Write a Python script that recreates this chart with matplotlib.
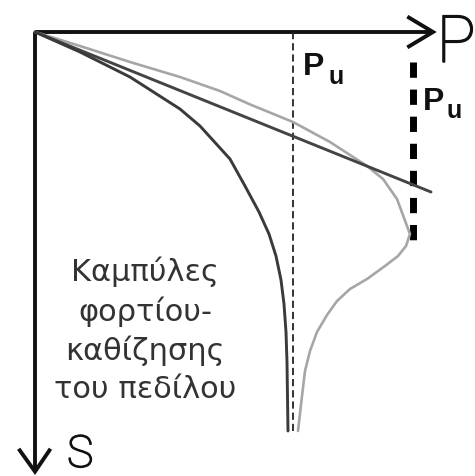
import matplotlib
matplotlib.use("Agg")
import matplotlib.pyplot as plt
import matplotlib.patheffects as pe

# Load (P) and settlement (S) in arbitrary units; S grows downward.
steep_P = [0, 11.25, 23.75, 36.25, 41.25, 48.75, 52.5, 56, 58.5, 60.25, 61.5,
           62.25, 62.75, 63, 63.25]
steep_S = [0, 5, 11.25, 19.25, 23.5, 31.75, 38.5, 45, 50.5, 56, 62,
           68, 75, 82.5, 99.75]

linear_P = [0, 99]
linear_S = [0, 40]

soft_P = [0, 11.25, 23.75, 36.25, 46.25, 53.75, 64.5, 73.75, 83, 87, 90.5, 93,
          93.75, 92.75, 90.75, 87.5, 83, 78.75, 75.5, 73, 70.5, 68.75, 67.5,
          66.75, 65.75]
soft_S = [0, 3.5, 7.5, 11.25, 14.75, 18.1, 22.5, 27.5, 33.5, 36.75, 41.75, 48.5,
          50.5, 53.5, 56, 58.5, 61.75, 64.25, 67.25, 70.75, 75, 79.75, 84.75,
          91, 99.75]

pu_thin = 64.5          # ultimate load of the first curve
pu_thin_span = [0, 99.75]
pu_thick = 94.5         # ultimate load of the second curve
pu_thick_span = [7.5, 53.5]

caption = ["Καμπύλες", "φορτίου-", "καθίζησης", "του πεδίλου"]

fig = plt.figure(figsize=(4.75, 4.77), dpi=100)
ax = fig.add_axes([0, 0, 1, 1])
ax.set_xlim(-8.75, 110)
ax.set_ylim(111, -8.25)
ax.axis("off")

axis_color = "#111111"

# Axes with open arrowheads
ax.plot([0, 99.5], [0, 0], color=axis_color, lw=2.8, solid_capstyle="butt")
ax.plot([0, 0], [0, 109.8], color=axis_color, lw=2.8, solid_capstyle="butt")
ax.plot([93.5, 99.5, 93.5], [-3.6, 0, 3.6], color=axis_color, lw=2.8,
        solid_joinstyle="miter")
ax.plot([-3.8, 0, 3.6], [104.6, 109.9, 104.6], color=axis_color, lw=2.8,
        solid_joinstyle="miter")

# Ultimate load markers
ax.plot([pu_thin, pu_thin], pu_thin_span, color="#222222", lw=1.3,
        linestyle=(0, (4.0, 2.2)))
ax.plot([pu_thick, pu_thick], pu_thick_span, color="#000000", lw=5.0,
        linestyle=(0, (2.2, 1.7)))

# Load-settlement curves
ax.plot(soft_P, soft_S, color="#a6a6a6", lw=1.9, solid_capstyle="round",
        solid_joinstyle="round")
ax.plot(linear_P, linear_S, color="#444444", lw=2.1, solid_capstyle="round")
ax.plot(steep_P, steep_S, color="#3a3a3a", lw=2.1, solid_capstyle="round",
        solid_joinstyle="round")

# Axis names (light face, slightly thickened)
thicken = [pe.withStroke(linewidth=1.0, foreground="#111111")]
ax.text(110.2, 7.5, "P", fontsize=47, family=["Roboto", "DejaVu Sans"],
        fontweight="light", color="#111111", ha="right", va="baseline",
        path_effects=thicken)
ax.text(8.0, 111, "S", fontsize=32, family=["Roboto", "DejaVu Sans"],
        fontweight="light", color="#111111", ha="left", va="bottom",
        path_effects=thicken)

for (px, py), (ux, uy) in [((67.0, 10.5), (73.25, 12.75)),
                           ((97.0, 19.25), (103.0, 21.25))]:
    ax.text(px, py, "P", fontsize=23, family="Liberation Sans", fontweight="bold",
            color="#111111", ha="left", va="baseline")
    ax.text(ux, uy, "u", fontsize=18, family="Liberation Sans", fontweight="bold",
            color="#111111", ha="left", va="baseline")

for line, base in zip(caption, [62.0, 72.0, 81.75, 91.25]):
    ax.text(27.5, base, line, fontsize=22, family="DejaVu Sans",
            color="#333333", ha="center", va="baseline")

fig.savefig("out.png", dpi=100, facecolor="white")
